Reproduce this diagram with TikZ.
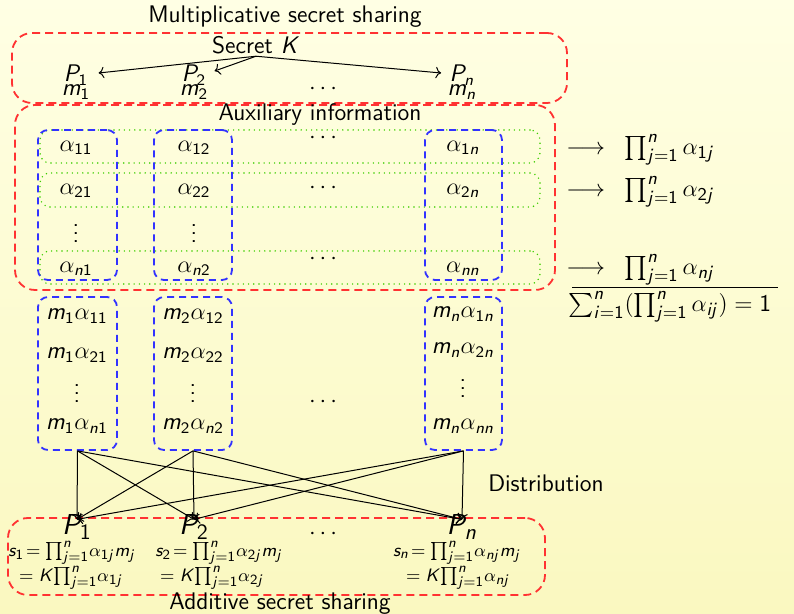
\documentclass[tikz,border=0pt]{standalone}
\usepackage{amsmath}
\usetikzlibrary{arrows.meta}
\renewcommand{\familydefault}{\sfdefault}
\DeclareSymbolFont{sfletters}{OT1}{cmss}{m}{sl}
\DeclareSymbolFont{sfdigits}{OT1}{cmss}{m}{n}
\DeclareMathSymbol{P}{\mathalpha}{sfletters}{`P}
\DeclareMathSymbol{K}{\mathalpha}{sfletters}{`K}
\DeclareMathSymbol{m}{\mathalpha}{sfletters}{`m}
\DeclareMathSymbol{s}{\mathalpha}{sfletters}{`s}
\DeclareMathSymbol{n}{\mathalpha}{sfletters}{`n}
\DeclareMathSymbol{i}{\mathalpha}{sfletters}{`i}
\DeclareMathSymbol{j}{\mathalpha}{sfletters}{`j}
\DeclareMathSymbol{0}{\mathalpha}{sfdigits}{`0}
\DeclareMathSymbol{1}{\mathalpha}{sfdigits}{`1}
\DeclareMathSymbol{2}{\mathalpha}{sfdigits}{`2}
\definecolor{myred}{RGB}{255,50,50}
\definecolor{myblue}{RGB}{50,50,255}
\definecolor{mygreen}{RGB}{60,205,0}
\definecolor{bgtop}{RGB}{255,255,228}
\definecolor{bgbot}{RGB}{250,248,192}
\tikzset{
  redbox/.style={draw=myred, line width=0.9pt, dash pattern=on 4pt off 2.5pt, rounded corners=10pt, inner sep=0pt},
  bluebox/.style={draw=myblue, line width=0.9pt, dash pattern=on 3.5pt off 2.5pt, rounded corners=5pt, inner sep=0pt},
  greenrow/.style={draw=mygreen, line width=0.8pt, dash pattern=on 0pt off 2.6pt, line cap=round, rounded corners=5pt, inner sep=0pt},
  txt/.style={font=\fontsize{12}{14}\selectfont, inner sep=1pt},
  rtxt/.style={font=\fontsize{13}{15}\selectfont, inner sep=1pt, anchor=west},
  big/.style={font=\fontsize{15}{17}\selectfont, inner sep=0pt},
  small/.style={font=\fontsize{9.5}{11}\selectfont, inner sep=1pt},
  conn/.style={->, line width=0.5pt},
}
\begin{document}
\begin{tikzpicture}[x=0.5pt,y=-0.5pt]
\shade[top color=bgtop,bottom color=bgbot] (0,0) rectangle (794,614);
\useasboundingbox (0,0) rectangle (794,614);

% frames
\node[redbox, minimum width=277.5pt, minimum height=35pt] (rb1) at (289.5,68) {};
\node[redbox, minimum width=270pt, minimum height=92.5pt] (rb2) at (285,197.5) {};
\node[redbox, minimum width=268.5pt, minimum height=38.5pt] (rb3) at (276.5,556.5) {};
\node[greenrow, minimum width=250pt, minimum height=16.5pt] (g1) at (290,146.5) {};
\node[greenrow, minimum width=250pt, minimum height=17pt] (g2) at (290,190) {};
\node[greenrow, minimum width=250pt, minimum height=16.5pt] (g3) at (290,267.5) {};
\node[bluebox, minimum width=39.5pt, minimum height=75pt] (a1) at (77.5,205) {};
\node[bluebox, minimum width=39pt, minimum height=75pt] (a2) at (193,205) {};
\node[bluebox, minimum width=38.5pt, minimum height=75pt] (an) at (463.5,205) {};
\node[bluebox, minimum width=39.5pt, minimum height=76.5pt] (b1) at (77.5,373.5) {};
\node[bluebox, minimum width=39pt, minimum height=76.5pt] (b2) at (193,373.5) {};
\node[bluebox, minimum width=38.5pt, minimum height=76.5pt] (bn) at (463.5,373.5) {};

% top section
\node[txt] (title) at (285,17) {Multiplicative secret sharing};
\node[txt] (sec) at (256,45) {Secret $K$};
\node[txt, inner sep=5pt] (P1) at (76,75) {$P_1$};
\node[txt] (m1) at (76,92) {$m_1$};
\node[txt, inner sep=4pt] (P2) at (194,75) {$P_2$};
\node[txt] (m2) at (194,92) {$m_2$};
\node[txt] (tdots) at (325,89) {$\cdots$};
\node[txt, inner sep=4pt] (Pn) at (462,75) {$P_n$};
\node[txt] (mn) at (462,92) {$m_n$};
\draw[conn] (sec.south) -- ([yshift=1pt]P1.east);
\draw[conn] (sec.south) -- ([yshift=2pt]P2.east);
\draw[conn] (sec.south) -- ([yshift=1pt]Pn.west);

% auxiliary
\node[txt] (aux) at (320,115) {Auxiliary information};
\node[txt] (x11) at (76,148) {$\alpha_{11}$};
\node[txt] (x12) at (194,148) {$\alpha_{12}$};
\node[txt] (d1) at (325,138) {$\cdots$};
\node[txt] (x1n) at (463,148) {$\alpha_{1n}$};
\node[txt] (x21) at (76,191) {$\alpha_{21}$};
\node[txt] (x22) at (194,191) {$\alpha_{22}$};
\node[txt] (d2) at (325,188) {$\cdots$};
\node[txt] (x2n) at (463,191) {$\alpha_{2n}$};
\node[txt] (v1) at (76,228) {$\vdots$};
\node[txt] (v2) at (194,228) {$\vdots$};
\node[txt] (xn1) at (76,269) {$\alpha_{n1}$};
\node[txt] (xn2) at (194,269) {$\alpha_{n2}$};
\node[txt] (d3) at (325,259) {$\cdots$};
\node[txt] (xnn) at (463,269) {$\alpha_{nn}$};

% right side products
\node[rtxt] (r1) at (564,150) {$\longrightarrow\enspace\prod_{j=1}^n\alpha_{1j}$};
\node[rtxt] (r2) at (564,192) {$\longrightarrow\enspace\prod_{j=1}^n\alpha_{2j}$};
\node[rtxt] (r3) at (564,270) {$\longrightarrow\enspace\prod_{j=1}^n\alpha_{nj}$};
\node[rtxt] (den) at (566,307) {$\sum_{i=1}^n(\prod_{j=1}^n\alpha_{ij})=1$};
\coordinate (fl) at (572,288);
\coordinate (fr) at (778,288);
\draw[line width=0.5pt] (fl) -- (fr);

% m rows
\node[txt] (y11) at (77,316) {$m_1\alpha_{11}$};
\node[txt] (y21) at (77,355) {$m_1\alpha_{21}$};
\node[txt] (w1) at (77,388) {$\vdots$};
\node[txt] (yn1) at (77,426) {$m_1\alpha_{n1}$};
\node[txt] (y12) at (193,316) {$m_2\alpha_{12}$};
\node[txt] (y22) at (193,355) {$m_2\alpha_{22}$};
\node[txt] (w2) at (193,388) {$\vdots$};
\node[txt] (yn2) at (193,426) {$m_2\alpha_{n2}$};
\node[txt] (y1n) at (463,314) {$m_n\alpha_{1n}$};
\node[txt] (y2n) at (463,350) {$m_n\alpha_{2n}$};
\node[txt] (wn) at (463,383) {$\vdots$};
\node[txt] (ynn) at (463,426) {$m_n\alpha_{nn}$};
\node[txt] (md) at (325,402) {$\cdots$};

% bottom
\node[big] (Q1) at (77,527) {$P_1$};
\node[big] (Q2) at (194,527) {$P_2$};
\node[txt] (bd) at (325,534) {$\cdots$};
\node[big] (Qn) at (462,527) {$P_n$};
\node[small] (s1) at (72,553) {$s_1\!=\prod_{j=1}^n\!\alpha_{1j}m_j$};
\node[small] (k1) at (71,578) {$=K\!\prod_{j=1}^n\!\alpha_{1j}$};
\node[small] (s2) at (219,553) {$s_2\!=\prod_{j=1}^n\!\alpha_{2j}m_j$};
\node[small] (k2) at (212,578) {$=K\!\prod_{j=1}^n\!\alpha_{2j}$};
\node[small] (sn) at (457,553) {$s_n\!=\prod_{j=1}^n\!\alpha_{nj}m_j$};
\node[small] (kn) at (458,578) {$=K\!\prod_{j=1}^n\!\alpha_{nj}$};
\node[txt] (dist) at (546,483) {Distribution};
\node[txt] (add) at (280,604) {Additive secret sharing};

\foreach \s in {b1,b2,bn}
  \foreach \t in {Q1,Q2,Qn}
    \draw[conn] (\s.south) -- ([yshift=-2.5pt]\t.north);
\end{tikzpicture}
\end{document}
